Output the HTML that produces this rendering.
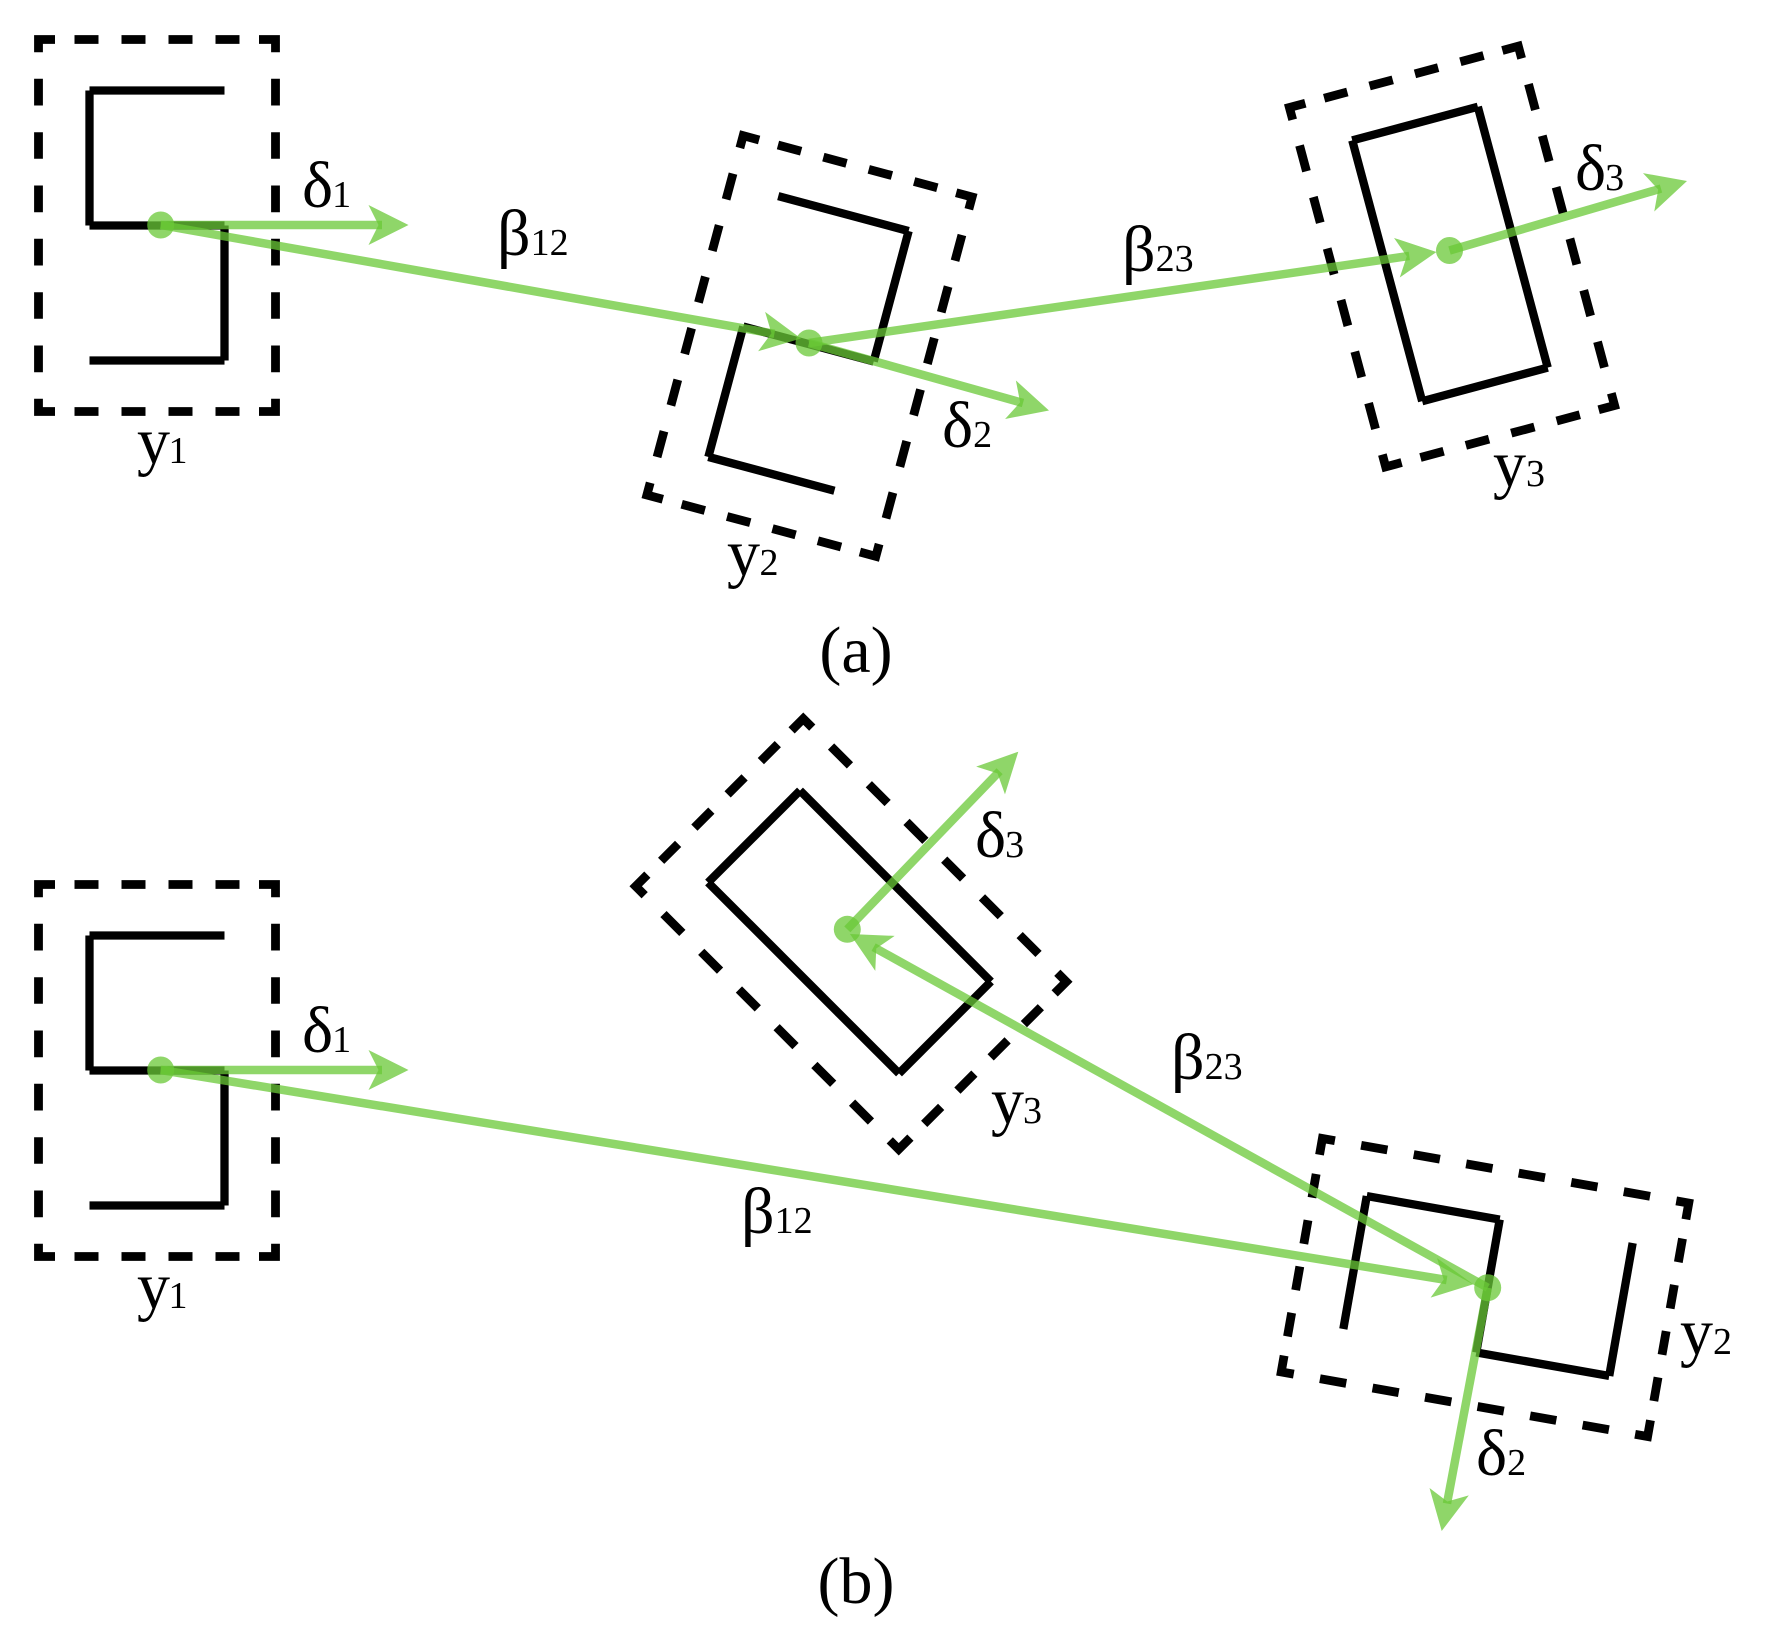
<!DOCTYPE html>
<html>
<head>
<meta charset="utf-8">
<style>
html,body{margin:0;padding:0;background:#fff;}
svg{display:block;}
text{font-family:"Liberation Serif",serif;font-size:66px;fill:#000;}
tspan{font-size:38px;}
.cap{font-size:66px;text-anchor:middle;}
.g{stroke:#69c837;stroke-opacity:.75;stroke-width:8.5;fill:none;}
.h{fill:#69c837;fill-opacity:.75;stroke:none;}
.d{fill:#69c837;fill-opacity:.75;stroke:none;}
.k{stroke:#000;stroke-width:8.3;fill:none;stroke-linecap:butt;}
</style>
</head>
<body>
<svg width="1766" height="1646" viewBox="0 0 1766 1646" xmlns="http://www.w3.org/2000/svg">
<defs>
  <g id="box" fill="none" stroke="#000" stroke-width="8.8" stroke-linejoin="miter">
    <path d="M-118.5,-173.3V-186H-102M102,-186H118.5V-173.3M118.5,173.3V186H102M-102,186H-118.5V173.3"/>
    <path d="M-82.5,-186H-58.5M-35.5,-186H-11.5M11.5,-186H35.5M58.5,-186H82.5"/>
    <path d="M-82.5,186H-58.5M-35.5,186H-11.5M11.5,186H35.5M58.5,186H82.5"/>
    <path d="M-118.5,-146.7V-120M-118.5,-93.3V-66.7M-118.5,-40V-13.3M-118.5,13.3V40M-118.5,66.7V93.3M-118.5,120V146.7"/>
    <path d="M118.5,-146.7V-120M118.5,-93.3V-66.7M118.5,-40V-13.3M118.5,13.3V40M118.5,66.7V93.3M118.5,120V146.7"/>
  </g>
  <g id="ess" class="k">
    <path d="M67.5,-135H-67.5"/><path d="M-67.5,-135V0"/><path d="M-67.5,0H67.5"/><path d="M67.5,0V135"/><path d="M67.5,135H-67.5"/>
  </g>
  <g id="ess2" class="k">
    <path d="M67.5,-135H-67.5"/><path d="M-67.5,-135V0"/><path d="M-67.5,0H67.5"/><path d="M67.5,0V135"/><path d="M67.5,135H-63"/>
  </g>
  <g id="rct" class="k">
    <path d="M-65,-135H65"/><path d="M65,-135V135"/><path d="M65,135H-65"/><path d="M-65,135V-135"/>
  </g>
  <path id="head" class="h" d="M0,0L-40,-20L-30,0L-40,20Z"/>
</defs>

<!-- (a) black -->
<use href="#box" transform="translate(157,225.5)"/>
<use href="#ess" transform="translate(157,225.5)"/>
<use href="#box" transform="translate(809.5,346) rotate(15)"/>
<use href="#ess2" transform="translate(808.5,344) rotate(15) scale(-1,1)"/>
<use href="#box" transform="translate(1452,256.5) rotate(-15)"/>
<use href="#rct" transform="translate(1450,254) rotate(-15)"/>

<!-- (b) black -->
<use href="#box" transform="translate(157,1070.5)"/>
<use href="#ess" transform="translate(157,1070.5)"/>
<use href="#box" transform="translate(851,934) rotate(-45)"/>
<use href="#rct" transform="translate(849.5,932) rotate(-45)"/>
<use href="#box" transform="translate(1485,1287.5) rotate(100)"/>
<use href="#ess" transform="translate(1488,1286) rotate(100) scale(1,-1)"/>

<!-- (a) green -->
<line class="g" x1="160.7" y1="225" x2="382" y2="225"/>
<use href="#head" transform="translate(408.5,225)"/>
<line class="g" x1="160.7" y1="225" x2="774.4" y2="333.8"/>
<use href="#head" transform="translate(801,338.5) rotate(10.05)"/>
<line class="g" x1="809" y1="343" x2="1023" y2="403"/>
<use href="#head" transform="translate(1049,410.5) rotate(15.66)"/>
<line class="g" x1="809" y1="343" x2="1409.3" y2="255.9"/>
<use href="#head" transform="translate(1436.5,252) rotate(-8.26)"/>
<line class="g" x1="1449.5" y1="250.5" x2="1661" y2="188.6"/>
<use href="#head" transform="translate(1687,181) rotate(-16.38)"/>
<circle class="d" cx="160.7" cy="225" r="13.5"/>
<circle class="d" cx="809" cy="343" r="13.5"/>
<circle class="d" cx="1449.5" cy="250.5" r="13.5"/>

<!-- (b) green -->
<line class="g" x1="160.7" y1="1070" x2="382" y2="1070"/>
<use href="#head" transform="translate(408.5,1070)"/>
<line class="g" x1="160.7" y1="1070" x2="1446.7" y2="1280"/>
<use href="#head" transform="translate(1473.3,1284.3) rotate(9.27)"/>
<line class="g" x1="1487.7" y1="1287.7" x2="1447" y2="1503.5"/>
<use href="#head" transform="translate(1441.7,1531) rotate(100.75)"/>
<line class="g" x1="847.3" y1="929.3" x2="999.6" y2="771.2"/>
<use href="#head" transform="translate(1018.3,751.7) rotate(-46.1)"/>
<line class="g" x1="1487.7" y1="1287.7" x2="873.6" y2="947.1"/>
<use href="#head" transform="translate(850,934) rotate(209)"/>
<circle class="d" cx="160.7" cy="1070" r="13.5"/>
<circle class="d" cx="847.3" cy="929.3" r="13.5"/>
<circle class="d" cx="1487.7" cy="1287.7" r="13.5"/>

<!-- labels (a) -->
<text x="137" y="463">y<tspan dx="-1.5">1</tspan></text>
<text x="302" y="207">δ<tspan dx="-1">1</tspan></text>
<text x="497" y="255">β<tspan>12</tspan></text>
<text x="727" y="575">y<tspan dx="-.5">2</tspan></text>
<text x="942" y="447">δ<tspan>2</tspan></text>
<text x="1122" y="271">β<tspan>23</tspan></text>
<text x="1493" y="486">y<tspan>3</tspan></text>
<text x="1575" y="190">δ<tspan dx="-1">3</tspan></text>
<text class="cap" x="856" y="672">(a)</text>

<!-- labels (b) -->
<text x="137" y="1308">y<tspan dx="-1.5">1</tspan></text>
<text x="302" y="1052">δ<tspan dx="-1">1</tspan></text>
<text x="741" y="1233">β<tspan>12</tspan></text>
<text x="1171" y="1079">β<tspan>23</tspan></text>
<text x="991" y="1123">y<tspan dx="-1">3</tspan></text>
<text x="975" y="857">δ<tspan dx="-1">3</tspan></text>
<text x="1680" y="1354">y<tspan>2</tspan></text>
<text x="1476" y="1475">δ<tspan>2</tspan></text>
<text class="cap" x="856" y="1603">(b)</text>
</svg>
</body>
</html>
